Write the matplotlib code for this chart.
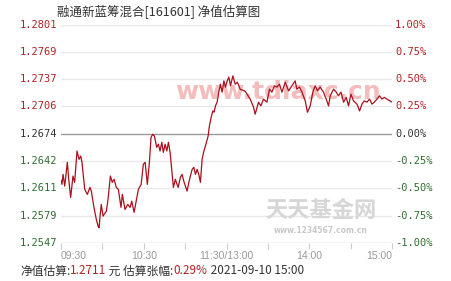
import matplotlib
matplotlib.use("Agg")
import matplotlib.pyplot as plt

plt.rcParams['font.family'] = ['Noto Sans CJK SC', 'DejaVu Sans']

# minutes since 09:30 (lunch break removed), estimated change in %
minutes = [0, 0.7, 1.5, 2.7, 4.6, 5.6, 7.0, 8.7, 9.9, 11.6, 13.1, 14.3, 15.2, 17.2, 19.1,
           21.0, 22.0, 23.9, 25.6, 26.9, 27.6, 28.1, 29.2, 30.5, 32.9, 34.1, 35.8, 37.2,
           38.5, 40.1, 41.6, 43.5, 44.5, 46.4, 48.4, 50.1, 51.3, 53.0, 56.1, 58.1, 59.7,
           61.0, 62.6, 64.1, 65.3, 66.5, 67.7, 69.4, 70.6, 71.8, 73.1, 74.2, 75.5, 76.7,
           77.9, 79.1, 80.3, 81.5, 82.9, 84.9, 86.6, 87.8, 89.0, 91.4, 92.7, 93.8, 95.1,
           96.3, 97.5, 98.7, 99.9, 101.1, 102.3, 103.6, 104.7, 106.7, 107.6, 109.1, 110.1,
           111.0, 112.0, 113.2, 114.4, 115.6, 116.8, 118.1, 119.2, 120.5, 121.7, 122.9,
           124.6, 126.3, 127.9, 129.9, 133.5, 137.2, 139.6, 140.8, 143.2, 144.9, 146.8,
           149.3, 151.2, 152.9, 154.8, 156.6, 158.4, 160.2, 162.6, 165.0, 167.4, 169.8,
           171.0, 172.9, 174.7, 177.1, 178.7, 180.7, 182.6, 184.3, 186.0, 187.9, 190.3,
           192.3, 194.0, 195.2, 197.6, 199.6, 201.2, 203.0, 204.9, 206.8, 208.5, 210.2,
           212.1, 214.6, 216.5, 218.2, 219.9, 221.8, 223.7, 225.5, 227.1, 229.1, 231.0,
           232.7, 234.4, 236.3, 240]
change = [-0.427, -0.463, -0.372, -0.479, -0.261, -0.417, -0.583, -0.387, -0.445, -0.158,
          -0.234, -0.204, -0.261, -0.509, -0.555, -0.491, -0.525, -0.674, -0.784, -0.846,
          -0.861, -0.784, -0.647, -0.754, -0.708, -0.601, -0.387, -0.445, -0.417, -0.491,
          -0.509, -0.674, -0.555, -0.693, -0.647, -0.674, -0.617, -0.720, -0.509, -0.463,
          -0.280, -0.261, -0.463, -0.261, -0.032, -0.005, -0.020, -0.124, -0.096, -0.158,
          -0.078, -0.170, -0.096, -0.158, -0.078, -0.170, -0.326, -0.491, -0.417, -0.491,
          -0.399, -0.372, -0.433, -0.525, -0.445, -0.387, -0.326, -0.307, -0.372, -0.326,
          -0.372, -0.445, -0.234, -0.158, -0.112, -0.020, 0.072, 0.163, 0.209, 0.197, 0.255,
          0.289, 0.381, 0.454, 0.381, 0.484, 0.427, 0.484, 0.518, 0.439, 0.530, 0.454, 0.472,
          0.408, 0.390, 0.317, 0.243, 0.179, 0.289, 0.255, 0.317, 0.289, 0.408, 0.381, 0.439,
          0.427, 0.454, 0.381, 0.472, 0.393, 0.439, 0.484, 0.408, 0.427, 0.381, 0.301, 0.197,
          0.255, 0.381, 0.439, 0.393, 0.427, 0.381, 0.317, 0.255, 0.347, 0.408, 0.381, 0.347,
          0.381, 0.289, 0.333, 0.255, 0.362, 0.301, 0.271, 0.209, 0.271, 0.301, 0.289, 0.317,
          0.271, 0.289, 0.317, 0.347, 0.317, 0.333, 0.317, 0.29]

pct_levels = [1.0, 0.75, 0.5, 0.25, 0.0, -0.25, -0.5, -0.75, -1.0]
nav_labels = ['1.2801', '1.2769', '1.2737', '1.2706', '1.2674', '1.2642', '1.2611', '1.2579', '1.2547']
pct_labels = ['1.00%', '0.75%', '0.50%', '0.25%', '0.00%', '-0.25%', '-0.50%', '-0.75%', '-1.00%']
tick_minutes = [0, 30, 60, 90, 120, 150, 180, 210, 240]
tick_labels = ['09:30', '', '10:30', '', '11:30/13:00', '', '14:00', '', '15:00']

RED = '#b22222'
GREEN = '#2e6e2e'
DARK = '#333333'
LINE = '#a8101c'

fig = plt.figure(figsize=(4.51, 2.81), dpi=100)
ax = fig.add_axes([61 / 451, 1 - 243 / 281, 331 / 451, 218.5 / 281])
ax.set_xlim(0, 240)
ax.set_ylim(-1, 1)
for s in ax.spines.values():
    s.set_visible(False)
ax.set_yticks([])

for lvl, nav, pl in zip(pct_levels, nav_labels, pct_labels):
    if lvl > 0:
        c = RED
    elif lvl < 0:
        c = GREEN
    else:
        c = DARK
    gc = '#9a9a9a' if lvl == 0 else ('#cccccc' if lvl == -1 else '#e8e8e8')
    ax.axhline(lvl, color=gc, lw=1, zorder=1)
    ax.text(-0.012, lvl, nav, transform=ax.get_yaxis_transform(), ha='right', va='center',
            color=c, fontsize=7.5, family='DejaVu Sans Mono')
    ax.text(1.009, lvl, pl, transform=ax.get_yaxis_transform(), ha='left', va='center',
            color=c, fontsize=7.5, family='DejaVu Sans Mono')

ax.set_xticks(tick_minutes)
ax.set_xticklabels(tick_labels, family='Liberation Sans', fontsize=7.5, color='#999999')
ax.tick_params(axis='x', length=4, color='#cccccc', pad=2)
labs = ax.get_xticklabels()
labs[0].set_ha('left')
labs[-1].set_ha('right')

# watermarks
ax.text(0.655, 0.69, 'www.tdiaxc.cn', transform=ax.transAxes, ha='center', va='center',
        fontsize=18, fontweight='bold', family='DejaVu Sans', color='#f2a6a6', alpha=0.75, zorder=2)
ax.text(0.786, 0.15, '天天基金网', transform=ax.transAxes, ha='center', va='center',
        fontsize=16, fontweight='bold', color='#d6d6d6', zorder=2)
ax.text(0.786, 0.055, 'www.1234567.com.cn', transform=ax.transAxes, ha='center', va='center',
        fontsize=5.5, fontweight='bold', family='DejaVu Sans', color='#c8c8c8', zorder=2)

ax.plot(minutes, change, color=LINE, lw=0.9, zorder=3)

fig.text(57 / 451, 1 - 12 / 281, '融通新蓝筹混合[161601] 净值估算图', ha='left', va='center',
         fontsize=9, color=DARK)

renderer = fig.canvas.get_renderer()
x = 20 / 451
parts = [('净值估算:', DARK), ('1.2711', RED), (' 元 估算张幅:', DARK), ('0.29%', RED),
         (' 2021-09-10 15:00', DARK)]
for s, c in parts:
    t = fig.text(x, 1 - 271 / 281, s, ha='left', va='center', fontsize=8.5, color=c)
    bb = t.get_window_extent(renderer)
    x = bb.x1 / fig.bbox.width

fig.savefig('out.png', dpi=100)
